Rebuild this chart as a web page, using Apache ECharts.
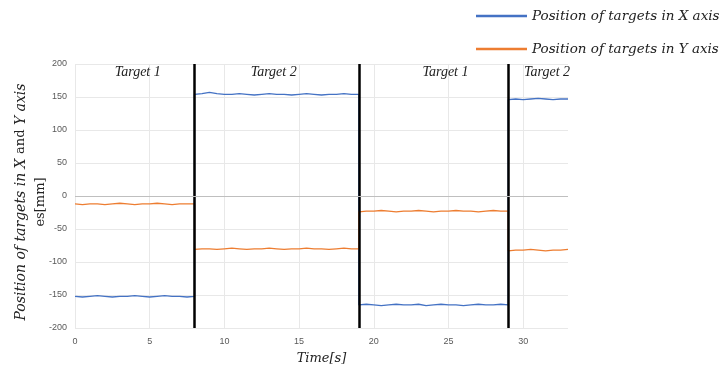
<!DOCTYPE html>
<html><head><meta charset="utf-8">
<script src="https://cdn.jsdelivr.net/npm/echarts@6/dist/echarts.min.js"></script>
<style>html,body{margin:0;padding:0;background:#fff}#c{width:725px;height:370px}</style>
</head><body><div id="c"></div>
<script>
// time samples (s); boundary times repeated to draw the steps
const time = [
 0,0.5,1,1.5,2,2.5,3,3.5,4,4.5,5,5.5,6,6.5,7,7.5,8,
 8,8.5,9,9.5,10,10.5,11,11.5,12,12.5,13,13.5,14,14.5,15,15.5,16,16.5,17,17.5,18,18.5,19,
 19,19.5,20,20.5,21,21.5,22,22.5,23,23.5,24,24.5,25,25.5,26,26.5,27,27.5,28,28.5,29,
 29,29.5,30,30.5,31,31.5,32,32.5,33
];
const posX = [
 -152,-153,-152,-151,-152,-153,-152,-152,-151,-152,-153,-152,-151,-152,-152,-153,-152,
 154,155,157,155,154,154,155,154,153,154,155,154,154,153,154,155,154,153,154,154,155,154,154,
 -165,-164,-165,-166,-165,-164,-165,-165,-164,-166,-165,-164,-165,-165,-166,-165,-164,-165,-165,-164,-165,
 146,147,146,147,148,147,146,147,147
];
const posY = [
 -12,-13,-12,-12,-13,-12,-11,-12,-13,-12,-12,-11,-12,-13,-12,-12,-12,
 -81,-80,-80,-81,-80,-79,-80,-81,-80,-80,-79,-80,-81,-80,-80,-79,-80,-80,-81,-80,-79,-80,-80,
 -24,-23,-23,-22,-23,-24,-23,-23,-22,-23,-24,-23,-23,-22,-23,-23,-24,-23,-22,-23,-23,
 -83,-82,-82,-81,-82,-83,-82,-82,-81
];
const switchTimes = [8, 19, 29];
const phaseLabels = ['Target 1','Target 2','Target 1','Target 2'];
const phaseCenters = [4.2, 13.3, 24.8, 31.6];

const seriesNames = ['Position of targets in X axis','Position of targets in Y axis'];
const pair = arr => time.map((t,i)=>[t,arr[i]]);
const serif = 'Liberation Serif';
const math = 'DejaVu Serif';

const chart = echarts.init(document.getElementById('c'));
chart.setOption({
  animation:false,
  legend:{
    orient:'vertical', left:471, top:4, itemGap:19,
    icon:'rect', itemWidth:51, itemHeight:2.5,
    textStyle:{fontFamily:math, fontStyle:'italic', fontSize:13.5, color:'#222'},
    data: seriesNames
  },
  grid:{left:75, right:157, top:64, bottom:42, outerBoundsMode:'none', containLabel:false},
  xAxis:{
    type:'value', min:0, max:33, interval:5,
    axisLine:{show:false}, axisTick:{show:false},
    axisLabel:{fontSize:9, color:'#595959', margin:9, showMaxLabel:false, fontFamily:'Liberation Sans'},
    splitLine:{showMaxLine:false, lineStyle:{color:'#e8e8e8'}},
    name:'Time[s]', nameLocation:'middle', nameGap:24, nameMoveOverlap:false,
    nameTextStyle:{fontFamily:math, fontStyle:'italic', fontSize:13, color:'#222'}
  },
  yAxis:{
    type:'value', min:-200, max:200, interval:50,
    axisLine:{show:false}, axisTick:{show:false},
    axisLabel:{fontSize:9, color:'#595959', margin:8, fontFamily:'Liberation Sans'},
    splitLine:{lineStyle:{color:'#e8e8e8'}},
    name:'{i|Position of targets in X }{n|and}{i| Y axis}\n{n|es[mm]}',
    nameLocation:'middle', nameRotate:90, nameGap:24, nameMoveOverlap:false,
    nameTextStyle:{
      lineHeight:20, padding:[0,12,0,0],
      rich:{
        i:{fontFamily:math, fontStyle:'italic', fontSize:14, color:'#222', lineHeight:20},
        n:{fontFamily:math, fontSize:13, color:'#222', lineHeight:20}
      }
    }
  },
  series:[
    {
      name:seriesNames[0], type:'line', data:pair(posX), showSymbol:false,
      lineStyle:{color:'#4472c4', width:1.3}, itemStyle:{color:'#4472c4'},
      z:3,
      markLine:{
        silent:true, symbol:'none', label:{show:false}, z:5,
        lineStyle:{color:'#000', width:2.5, type:'solid'},
        data: switchTimes.map(t=>[{coord:[t,-200]},{coord:[t,200]}])
      },
      markPoint:{
        silent:true, symbol:'circle', symbolSize:0,
        label:{show:true, position:'inside', formatter:p=>p.name,
          fontFamily:serif, fontStyle:'italic', fontSize:14, color:'#222'},
        data: phaseLabels.map((n,i)=>({name:n, coord:[phaseCenters[i],188]}))
      }
    },
    {
      name:seriesNames[1], type:'line', data:pair(posY), showSymbol:false,
      lineStyle:{color:'#ed7d31', width:1.3}, itemStyle:{color:'#ed7d31'}, z:3,
      markLine:{
        silent:true, symbol:'none', label:{show:false},
        lineStyle:{color:'#bfbfbf', width:1, type:'solid'},
        data:[{yAxis:0}]
      }
    }
  ]
});
</script></body></html>
